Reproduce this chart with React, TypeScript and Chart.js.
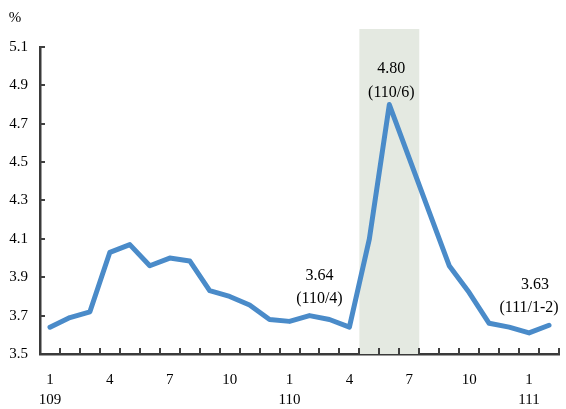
import React, { useEffect, useRef } from "react";
import { Chart, registerables } from "chart.js";

Chart.register(...registerables);

const categories = [
  "109/1", "109/2", "109/3", "109/4", "109/5", "109/6", "109/7", "109/8", "109/9", "109/10", "109/11", "109/12",
  "110/1", "110/2", "110/3", "110/4", "110/5", "110/6", "110/7", "110/8", "110/9", "110/10", "110/11", "110/12",
  "111/1", "111/2",
];
const monthTicks = ["1", "", "", "4", "", "", "7", "", "", "10", "", "", "1", "", "", "4", "", "", "7", "", "", "10", "", "", "1", ""];
const yearTicks = ["109", "", "", "", "", "", "", "", "", "", "", "", "110", "", "", "", "", "", "", "", "", "", "", "", "111", ""];
const rates = [
  3.64, 3.69, 3.72, 4.03, 4.07, 3.96, 4.0, 3.985, 3.83, 3.8, 3.755, 3.68,
  3.67, 3.7, 3.68, 3.64, 4.1, 4.8, 4.52, 4.24, 3.96, 3.82, 3.66, 3.64,
  3.61, 3.65,
];
const yMin = 3.5;
const yMax = 5.1;
const yStep = 0.2;
const highlightStart = 16;
const highlightEnd = 18;
const noteIndex = [17, 15, 25];
const noteLines = [
  ["4.80", "(110/6)"],
  ["3.64", "(110/4)"],
  ["3.63", "(111/1-2)"],
];

const FONT = "'Liberation Serif', 'Times New Roman', serif";

export default function App() {
  const ref = useRef<HTMLCanvasElement | null>(null);

  useEffect(() => {
    if (!ref.current) return;

    const decor = {
      id: "decor",
      beforeDatasetsDraw(chart: any) {
        const { ctx, chartArea } = chart;
        const xs = chart.scales.x;
        const ys = chart.scales.y;
        const half = (xs.getPixelForValue(1) - xs.getPixelForValue(0)) / 2;
        const x0 = xs.getPixelForValue(highlightStart) - half;
        const x1 = xs.getPixelForValue(highlightEnd) + half;
        const top = ys.getPixelForValue(yMax) - 18;
        ctx.save();
        ctx.fillStyle = "#e4e9e1";
        ctx.fillRect(x0, top, x1 - x0, chartArea.bottom - top);
        ctx.restore();
      },
      afterDatasetsDraw(chart: any) {
        const { ctx, chartArea } = chart;
        const xs = chart.scales.x;
        const ys = chart.scales.y;
        ctx.save();
        ctx.strokeStyle = "#404040";
        ctx.lineWidth = 2;
        for (let v = yMin + yStep; v <= yMax + 1e-6; v += yStep) {
          const y = Math.round(ys.getPixelForValue(v));
          ctx.beginPath();
          ctx.moveTo(chartArea.left, y);
          ctx.lineTo(chartArea.left + 5, y);
          ctx.stroke();
        }
        const half = (xs.getPixelForValue(1) - xs.getPixelForValue(0)) / 2;
        for (let i = 0; i < categories.length; i++) {
          const x = Math.round(xs.getPixelForValue(i) + half);
          ctx.beginPath();
          ctx.moveTo(x, chartArea.bottom);
          ctx.lineTo(x, chartArea.bottom - 6);
          ctx.stroke();
        }
        ctx.fillStyle = "#000";
        ctx.font = `15px ${FONT}`;
        ctx.textAlign = "center";
        ctx.textBaseline = "middle";
        ctx.fillText("%", chartArea.left - 25, chartArea.top - 29);
        ctx.font = `16px ${FONT}`;
        const offsets = [
          [2, -36, 2, -12],
          [-30, -51, -30, -28],
          [-14, -40, -20, -17],
        ];
        noteIndex.forEach((idx, k) => {
          const px = xs.getPixelForValue(idx);
          const py = ys.getPixelForValue(rates[idx]);
          const o = offsets[k];
          ctx.fillText(noteLines[k][0], px + o[0], py + o[1]);
          ctx.fillText(noteLines[k][1], px + o[2], py + o[3]);
        });
        ctx.restore();
      },
    };

    const chart = new Chart(ref.current, {
      type: "line",
      data: {
        labels: categories,
        datasets: [
          {
            data: rates,
            borderColor: "#4a8bc9",
            borderWidth: 5,
            pointRadius: 0,
            tension: 0,
            borderJoinStyle: "round",
            borderCapStyle: "round",
            fill: false,
          },
        ],
      },
      options: {
        animation: false,
        responsive: false,
        devicePixelRatio: 1,
        layout: { padding: { top: 47, right: 7, left: 0, bottom: 0 } },
        plugins: { legend: { display: false }, tooltip: { enabled: false } },
        scales: {
          x: {
            offset: true,
            grid: { display: false, drawTicks: false, offset: true },
            border: { display: true, color: "#3a3a3a", width: 2.5 },
            afterFit: (s: any) => {
              s.height = 55;
            },
            ticks: {
              autoSkip: false,
              maxRotation: 0,
              padding: 16,
              color: "#000",
              font: { family: FONT, size: 15, lineHeight: "20px" },
              callback: (_v: any, i: number) =>
                yearTicks[i] ? [monthTicks[i], yearTicks[i]] : monthTicks[i],
            },
          },
          y: {
            min: yMin,
            max: yMax,
            grid: { display: false, drawTicks: false },
            border: { display: true, color: "#3a3a3a", width: 2.5 },
            afterFit: (s: any) => {
              s.width = 40;
            },
            ticks: {
              stepSize: yStep,
              padding: 12,
              color: "#000",
              font: { family: FONT, size: 15 },
              callback: (v: any) => Number(v).toFixed(1),
            },
          },
        },
      },
      plugins: [decor],
    });
    return () => chart.destroy();
  }, []);

  return (
    <div style={{ position: "fixed", left: 0, top: 0, width: 566, height: 409, background: "#fff" }}>
      <canvas ref={ref} width={566} height={409} />
    </div>
  );
}
